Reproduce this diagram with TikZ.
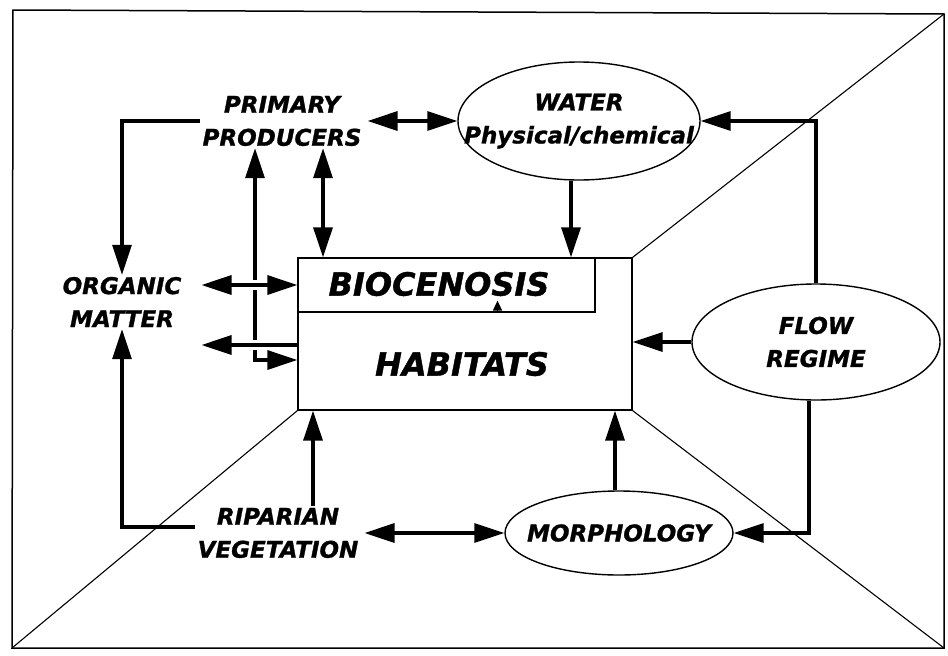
\documentclass[tikz,border=0pt]{standalone}
\usepackage{fontspec}
\setmainfont{DejaVu Sans}[BoldItalicFeatures={FakeBold=1.2}]
\usetikzlibrary{shapes.geometric,arrows.meta}

\begin{document}
\begin{tikzpicture}[x=1pt,y=-1pt,
  lbl/.style={font=\fontsize{23}{33}\selectfont\bfseries\itshape,align=center,inner sep=2pt},
  big/.style={font=\fontsize{32}{38}\selectfont\bfseries\itshape},
  oval/.style={draw,ellipse,line width=1.4pt,inner sep=0pt},
  box/.style={draw,rectangle,line width=1.2pt,inner sep=0pt},
  link/.style={line width=3.2pt,-{Triangle[length=30pt,width=19pt]}},
  both/.style={line width=3.2pt,{Triangle[length=30pt,width=19pt]}-{Triangle[length=30pt,width=19pt]}},
  over/.style={preaction={draw=white,line width=10pt}}]
\useasboundingbox (0,0) rectangle (948,656);
% frame
\coordinate (tl) at (13,10);
\coordinate (tr) at (944,14);
\coordinate (bl) at (12,648);
\coordinate (br) at (944,648);
\draw[line width=1.5pt] (tl) -- (tr) -- (br) -- (bl) -- cycle;
% central boxes
\node[box,minimum width=334pt,minimum height=152pt] (hab) at (465,334) {};
\node[box,minimum width=297pt,minimum height=54pt] (bio) at (446.5,285) {};
\node[big] (biotext) at (439,284) {BIOCENOSIS};
\node[big] (habtext) at (462,364) {HABITATS};
\draw[line width=1.1pt] (tr) -- (hab.north east);
\draw[line width=1.1pt] (bl) -- (hab.south west);
\draw[line width=1.1pt] (br) -- (hab.south east);
\draw[line width=1.5pt,-{Triangle[length=10pt,width=9pt]}] ([xshift=51pt]bio.south) -- ++(0,-12);
% compartments
\node[lbl] (pp) at (282,121) {PRIMARY\\PRODUCERS};
\node[lbl] (om) at (122,302) {ORGANIC\\MATTER};
\node[lbl] (rip) at (278,533) {RIPARIAN\\VEGETATION};
\node[oval,minimum width=242pt,minimum height=118pt] (water) at (579,121) {};
\node[lbl] at (water) {WATER\\Physical/chemical};
\node[oval,minimum width=248pt,minimum height=116pt] (flow) at (816,342) {};
\node[lbl] at (flow) {FLOW\\REGIME};
\node[oval,minimum width=228pt,minimum height=84pt] (morph) at (619,533) {};
\node[lbl] at (morph) {MORPHOLOGY};
\coordinate (habout) at ([yshift=-11pt]hab.west);
% links
\draw[both] ([xshift=4pt]pp.east) -- (water.west);
\draw[link] (pp.west) -| (om.north);
\draw[both] ([xshift=41pt]pp.south) -- ([xshift=41pt]pp.south |- bio.north);
\draw[both] ([xshift=-27pt]pp.south) |- ([yshift=-26pt]hab.west);
\draw[both,over] ([xshift=18pt]om.east |- bio.west) -- (bio.west);
\draw[link,over] (habout) -- ([xshift=18pt]om.east |- habout);
\draw[link] ([xshift=-8pt]water.south) -- ([xshift=-8pt]water.south |- bio.north);
\draw[link] (flow.north) |- (water.east);
\draw[link] (flow.west) -- (flow.west -| hab.east);
\draw[link] ([xshift=-7pt]flow.south) |- (morph.east);
\draw[link] ([xshift=-4pt]morph.north) -- ([xshift=-4pt]morph.north |- hab.south);
\draw[both] ([xshift=4pt]rip.east) -- (morph.west);
\draw[link] ([xshift=35pt]rip.north) -- ([xshift=35pt]rip.north |- hab.south);
\draw[link] ([yshift=6pt]rip.west) -| (om.south);
\end{tikzpicture}
\end{document}
